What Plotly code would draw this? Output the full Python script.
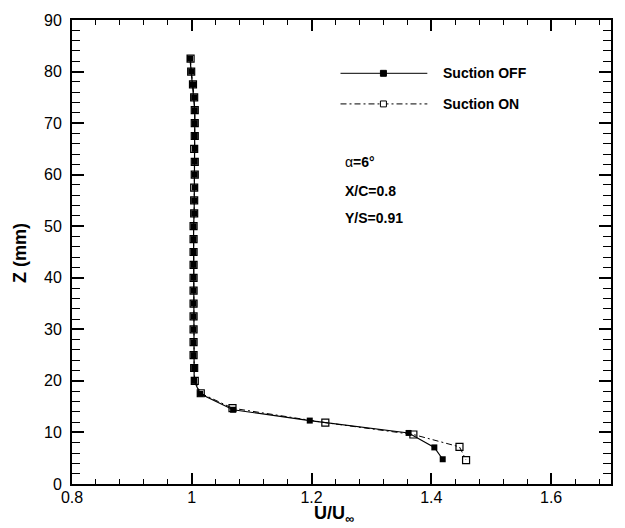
import plotly.graph_objects as go

# Velocity profile data: height above the wall Z (mm) and normalised velocity U/U_inf
z_off = [82.5, 80.0, 77.5, 75.0, 72.5, 70.0, 67.5, 65.0, 62.5, 60.0, 57.5, 55.0, 52.5,
         50.0, 47.5, 45.0, 42.5, 40.0, 37.5, 35.0, 32.5, 30.0, 27.5, 25.0, 22.5, 20.0,
         17.5, 14.4, 12.3, 9.9, 7.1, 4.8]
u_off = [0.997, 0.999, 1.002, 1.004, 1.005, 1.005, 1.005, 1.005, 1.005, 1.005, 1.005, 1.004, 1.004,
         1.003, 1.003, 1.003, 1.003, 1.003, 1.003, 1.003, 1.003, 1.003, 1.003, 1.003, 1.004, 1.004,
         1.014, 1.069, 1.197, 1.362, 1.405, 1.419]

z_on = [82.5, 80.0, 77.5, 75.0, 72.5, 70.0, 67.5, 65.0, 62.5, 60.0, 57.5, 55.0, 52.5,
        50.0, 47.5, 45.0, 42.5, 40.0, 37.5, 35.0, 32.5, 30.0, 27.5, 25.0, 22.5, 20.0,
        17.6, 14.7, 11.9, 9.6, 7.2, 4.65]
u_on = [0.998, 0.999, 1.002, 1.004, 1.005, 1.005, 1.005, 1.004, 1.005, 1.005, 1.004, 1.004, 1.004,
        1.003, 1.003, 1.003, 1.003, 1.003, 1.003, 1.003, 1.003, 1.003, 1.003, 1.003, 1.004, 1.005,
        1.015, 1.068, 1.223, 1.370, 1.447, 1.458]

series_names = ["Suction OFF", "Suction ON"]
case_notes = ["=6°", "X/C=0.8", "Y/S=0.91"]

W, H = 625, 528
L, R, T, B = 72, 13, 14, 44
PW, PH = W - L - R, H - T - B


def px(xp):
    return (xp - L) / PW


def py(yp):
    return (H - B - yp) / PH


fig = go.Figure()

fig.add_trace(go.Scatter(
    x=u_on, y=z_on, mode="lines+markers", name=series_names[1],
    line=dict(color="black", width=1, dash="6px,3px,2px,3px"),
    marker=dict(symbol="square-open", size=7, color="black", line=dict(width=1.2)),
    showlegend=False,
))
fig.add_trace(go.Scatter(
    x=u_off, y=z_off, mode="lines+markers", name=series_names[0],
    line=dict(color="black", width=1.2),
    marker=dict(symbol="square", size=6, color="black"),
    showlegend=False,
))

shapes = []
annotations = []

# Legend block with long line samples and centred markers
leg_rows = [(68, "solid", "black"), (99, "6px,3px,2px,3px", "white")]
for (yy, dash, fill), name in zip(leg_rows, series_names):
    shapes.append(dict(type="line", xref="paper", yref="paper",
                       x0=px(341), x1=px(428), y0=py(yy), y1=py(yy),
                       line=dict(color="black", width=1, dash=dash)))
    shapes.append(dict(type="rect", xref="paper", yref="paper",
                       x0=px(381), x1=px(387), y0=py(yy + 3), y1=py(yy - 3),
                       fillcolor=fill, line=dict(color="black", width=1)))
    annotations.append(dict(x=px(442), y=py(yy), xref="paper", yref="paper",
                            xanchor="left", yanchor="middle", showarrow=False,
                            text="<b>" + name + "</b>",
                            font=dict(family="Arial", size=14, color="black")))

# Case description
note_y = [158, 187, 215]
for i, (txt, yy) in enumerate(zip(case_notes, note_y)):
    label = "α<b>" + txt + "</b>" if i == 0 else "<b>" + txt + "</b>"
    annotations.append(dict(x=px(344), y=py(yy), xref="paper", yref="paper",
                            xanchor="left", yanchor="middle", showarrow=False,
                            text=label,
                            font=dict(family="Arial", size=14, color="black")))

# Axis titles
annotations.append(dict(x=px(334), y=py(527.5), xref="paper", yref="paper",
                        xanchor="center", yanchor="bottom", showarrow=False,
                        borderpad=0,
                        text="<b>U/U<sub>∞</sub></b>",
                        font=dict(family="Arial", size=18, color="black")))
annotations.append(dict(x=px(20), y=py(250), xref="paper", yref="paper",
                        xanchor="center", yanchor="middle", showarrow=False,
                        textangle=-90, text="<b>Z (mm)</b>",
                        font=dict(family="Arial", size=18, color="black")))

axis_common = dict(
    showgrid=False, zeroline=False, showline=True, linecolor="black", linewidth=2,
    mirror="ticks", ticks="inside", tickcolor="black", tickwidth=1.8,
    tickfont=dict(family="Arial", size=16, color="black"),
)

fig.update_layout(
    width=W, height=H,
    margin=dict(l=L, r=R, t=T, b=B),
    paper_bgcolor="white", plot_bgcolor="white",
    showlegend=False,
    shapes=shapes, annotations=annotations,
    xaxis=dict(range=[0.8, 1.7], dtick=0.2, tick0=0.8, ticklen=11, ticklabelstandoff=-2,
               minor=dict(dtick=0.04, ticks="inside", ticklen=5, tickcolor="black", tickwidth=1.3),
               **axis_common),
    yaxis=dict(range=[0, 90], dtick=10, tick0=0, ticklen=12, ticklabelstandoff=5,
               minor=dict(dtick=2, ticks="inside", ticklen=8, tickcolor="black", tickwidth=1.3),
               **axis_common),
)

fig.write_html("out.html")
